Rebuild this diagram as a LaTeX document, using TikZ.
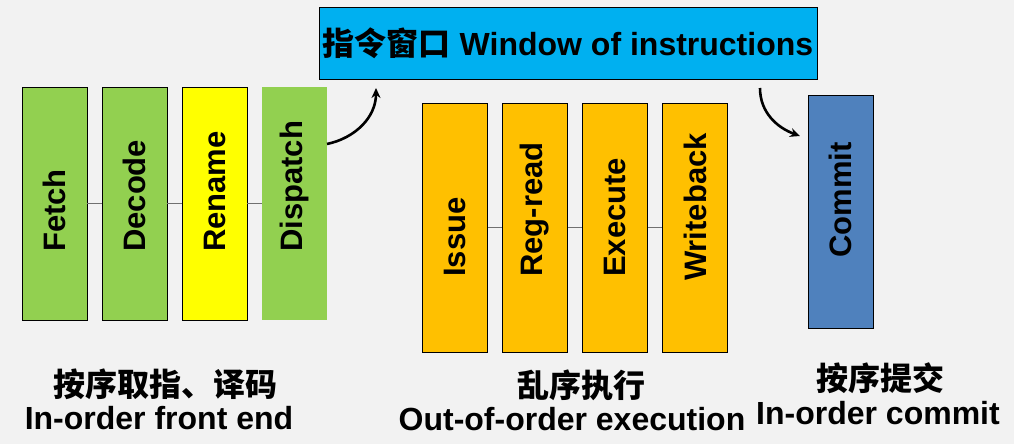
\documentclass[tikz,border=0pt]{standalone}
\usepackage{fontspec}
\setmainfont{Liberation Sans}
\newfontfamily\cjk{Noto Sans CJK SC}
\usepackage{tikz}
\usetikzlibrary{arrows.meta}
\definecolor{stageGreen}{HTML}{92D050}
\definecolor{renameYellow}{HTML}{FFFF00}
\definecolor{oooOrange}{HTML}{FFC000}
\definecolor{windowCyan}{HTML}{00B0F0}
\definecolor{commitBlue}{HTML}{4F81BD}
\definecolor{bgGray}{HTML}{F2F2F2}
\definecolor{linkGray}{HTML}{707070}

\begin{document}
\begin{tikzpicture}[x=1pt,y=1pt,
    stagebox/.style={draw=black, line width=0.9pt, minimum width=65pt, minimum height=233pt, inner sep=0pt},
    stagetext/.style={rotate=90, anchor=west, inner sep=0pt, font=\fontsize{31}{36}\selectfont\bfseries},
    link/.style={draw=linkGray, line width=1.8pt},
    flow/.style={line width=2.6pt, -{Stealth[length=10pt,width=9pt]}},
    cntext/.style={inner sep=0pt, font=\fontsize{32}{38}\selectfont\cjk\bfseries},
    entext/.style={inner sep=0pt, anchor=base, font=\fontsize{32}{38}\selectfont\bfseries}]
  \fill[bgGray] (0,0) rectangle (1014,444);
  \useasboundingbox (0,0) rectangle (1014,444);

  % in-order front end
  \node[stagebox, fill=stageGreen] (fetch) at (54.5,240.5) {};
  \node[stagebox, fill=stageGreen] (decode) at (134.5,240.5) {};
  \node[stagebox, fill=renameYellow] (rename) at (214.5,240.5) {};
  \node[stagebox, fill=stageGreen, draw=none] (dispatch) at (294.5,240.5) {};
  \draw[link] (fetch) -- (decode);
  \draw[link] (decode) -- (rename);
  \draw[link] (rename) -- (dispatch);
  \node[stagetext] (fetchT) at (54.5,192) {Fetch};
  \node[stagetext] (decodeT) at (134.5,192) {Decode};
  \node[stagetext] (renameT) at (214.5,192) {Rename};
  \node[stagetext] (dispatchT) at (294.5,192) {Dispatch};

  % window
  \node[draw=black, line width=0.9pt, fill=windowCyan, minimum width=498pt, minimum height=72pt, inner sep=0pt,
        font=\fontsize{32}{38}\selectfont\bfseries] (window) at (568,401) {{\cjk 指令窗口} Window of instructions};

  % out-of-order execution
  \node[stagebox, fill=oooOrange, minimum height=249pt] (issue) at (455,216.5) {};
  \node[stagebox, fill=oooOrange, minimum height=249pt] (regread) at (535,216.5) {};
  \node[stagebox, fill=oooOrange, minimum height=249pt] (execute) at (615,216.5) {};
  \node[stagebox, fill=oooOrange, minimum height=249pt] (writeback) at (695,216.5) {};
  \draw[link] (issue) -- (regread);
  \draw[link] (regread) -- (execute);
  \draw[link] (execute) -- (writeback);
  \node[stagetext] (issueT) at (455,167) {Issue};
  \node[stagetext] (regreadT) at (535,167) {Reg-read};
  \node[stagetext] (executeT) at (615,167) {Execute};
  \node[stagetext] (writebackT) at (695,163) {Writeback};

  % commit
  \node[stagebox, fill=commitBlue] (commit) at (840.5,232.5) {};
  \node[stagetext] (commitT) at (840.5,186) {Commit};

  % arrows to and from the window
  \coordinate (dispOut) at (327,300);
  \coordinate (winIn) at (376,356);
  \coordinate (winOut) at (760,356);
  \coordinate (commitIn) at (800,308);
  \draw[flow] (dispOut) to[out=12,in=-90] (winIn);
  \draw[flow] (winOut) to[out=-90,in=160] (commitIn);

  % group captions
  \node[cntext] (frontCn) at (165,60) {按序取指、译码};
  \node[entext] (frontEn) at (159,14) {In-order front end};
  \node[cntext] (oooCn) at (581,59) {乱序执行};
  \node[entext] (oooEn) at (572,13) {Out-of-order execution};
  \node[cntext] (commitCn) at (880,66) {按序提交};
  \node[entext] (commitEn) at (878,19) {In-order commit};
\end{tikzpicture}
\end{document}
